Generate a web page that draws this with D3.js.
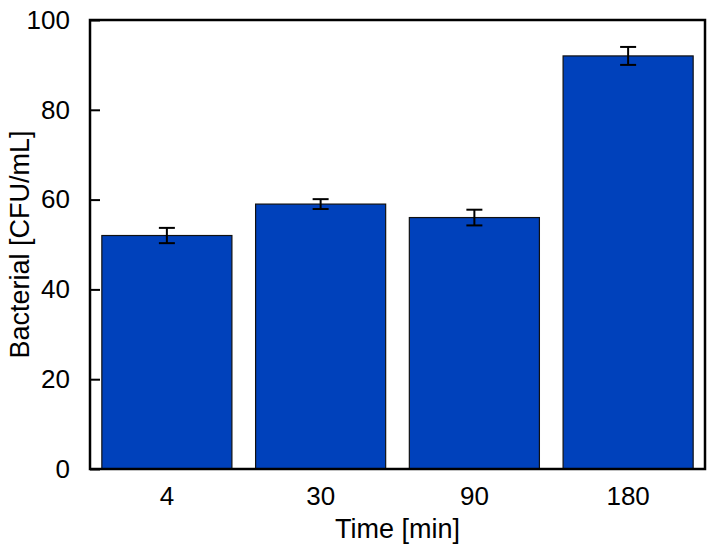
<!DOCTYPE html>
<html lang="en">

<head>
    <meta charset="UTF-8">
    <script type="text/javascript" src="https://d3js.org/d3.v7.min.js"></script>
    <title>Bacterial count over time</title>
    <style>
        body { margin: 0; background: #fff; }
        text { font-family: Arial, "Liberation Sans", sans-serif; fill: #000; }
    </style>
</head>

<body>
    <script>
        // Data
        var times = ["4", "30", "90", "180"];
        var counts = [52, 59, 56, 92];
        var errors = [1.7, 1.1, 1.75, 2.0];
        var yTicks = [0, 20, 40, 60, 80, 100];

        var margin = { top: 20, right: 8, bottom: 85, left: 90 },
            width = 713 - margin.left - margin.right,
            height = 554 - margin.top - margin.bottom;

        var x = d3.scaleBand().domain(times).range([0, width])
            .paddingInner(0.154).paddingOuter(0.077);
        var y = d3.scaleLinear().domain([0, 100]).range([height, 0]);

        var svg = d3.select("body").append("svg")
            .attr("width", 713).attr("height", 554)
            .append("g")
            .attr("transform", "translate(" + margin.left + "," + margin.top + ")");

        // Bars
        svg.selectAll(".bar")
            .data(counts)
            .enter().append("rect")
            .attr("x", function (d, i) { return x(times[i]); })
            .attr("y", function (d) { return y(d); })
            .attr("width", x.bandwidth())
            .attr("height", function (d) { return height - y(d); })
            .attr("fill", "#0041bb")
            .attr("stroke", "#111")
            .attr("stroke-width", 1.2);

        // Error bars
        var eb = svg.selectAll(".err")
            .data(counts)
            .enter().append("g")
            .attr("transform", function (d, i) {
                return "translate(" + (x(times[i]) + x.bandwidth() / 2) + ",0)";
            });
        eb.append("line")
            .attr("y1", function (d, i) { return y(d + errors[i]); })
            .attr("y2", function (d, i) { return y(d - errors[i]); })
            .attr("stroke", "#000").attr("stroke-width", 2);
        eb.append("line")
            .attr("x1", -8).attr("x2", 8)
            .attr("y1", function (d, i) { return y(d + errors[i]); })
            .attr("y2", function (d, i) { return y(d + errors[i]); })
            .attr("stroke", "#000").attr("stroke-width", 2);
        eb.append("line")
            .attr("x1", -8).attr("x2", 8)
            .attr("y1", function (d, i) { return y(d - errors[i]); })
            .attr("y2", function (d, i) { return y(d - errors[i]); })
            .attr("stroke", "#000").attr("stroke-width", 2);

        // Frame
        svg.append("rect")
            .attr("width", width).attr("height", height)
            .attr("fill", "none").attr("stroke", "#000").attr("stroke-width", 2.5);

        // Y axis, ticks crossing the frame
        var yAxis = svg.append("g")
            .call(d3.axisLeft(y).tickValues(yTicks).tickSize(10).tickPadding(10));
        yAxis.select(".domain").remove();
        yAxis.selectAll(".tick line").attr("x2", 10).attr("stroke-width", 2);
        yAxis.selectAll(".tick text").style("font-size", "26px")
            .style("font-family", "Arial, 'Liberation Sans', sans-serif");

        // X axis labels
        var xAxis = svg.append("g")
            .attr("transform", "translate(0," + height + ")")
            .call(d3.axisBottom(x).tickSize(0).tickPadding(18));
        xAxis.select(".domain").remove();
        xAxis.selectAll(".tick text").style("font-size", "26px")
            .style("font-family", "Arial, 'Liberation Sans', sans-serif");

        // Axis titles
        svg.append("text")
            .attr("x", width / 2).attr("y", height + 69)
            .attr("text-anchor", "middle")
            .style("font-size", "27px")
            .text("Time [min]");

        svg.append("text")
            .attr("transform", "rotate(-90)")
            .attr("x", -height / 2).attr("y", -61)
            .attr("text-anchor", "middle")
            .style("font-size", "27px")
            .text("Bacterial [CFU/mL]");
    </script>
</body>

</html>
